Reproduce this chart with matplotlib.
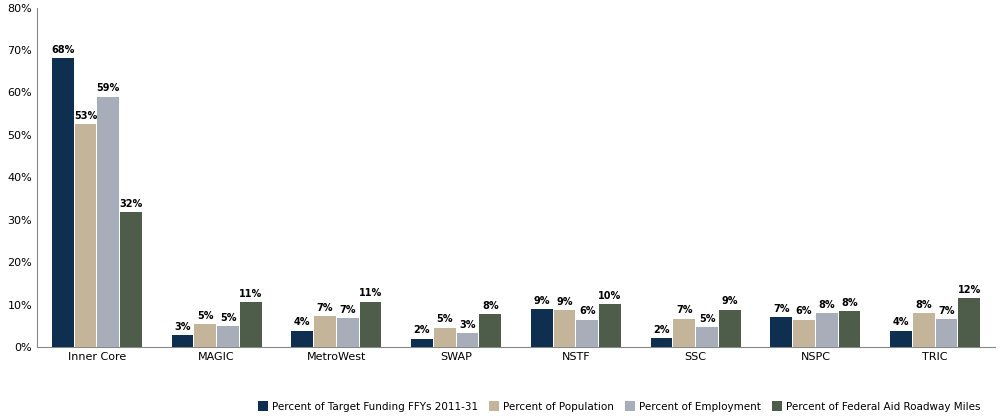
import matplotlib
matplotlib.use("Agg")
import matplotlib.pyplot as plt
import numpy as np

categories = ["Inner Core", "MAGIC", "MetroWest", "SWAP", "NSTF", "SSC", "NSPC", "TRIC"]
series_names = ["Percent of Target Funding FFYs 2011-31", "Percent of Population",
                "Percent of Employment", "Percent of Federal Aid Roadway Miles"]
funding = [68.0, 2.8, 3.8, 1.9, 8.9, 2.0, 7.0, 3.8]
population = [52.5, 5.3, 7.3, 4.5, 8.7, 6.7, 6.4, 7.9]
employment = [59.0, 4.9, 6.8, 3.2, 6.4, 4.6, 8.0, 6.6]
roadway = [31.8, 10.6, 10.7, 7.7, 10.1, 8.8, 8.4, 11.5]
labels = [
    ["68%", "3%", "4%", "2%", "9%", "2%", "7%", "4%"],
    ["53%", "5%", "7%", "5%", "9%", "7%", "6%", "8%"],
    ["59%", "5%", "7%", "3%", "6%", "5%", "8%", "7%"],
    ["32%", "11%", "11%", "8%", "10%", "9%", "8%", "12%"],
]
colors = ["#0f2f50", "#c4b49a", "#a8adba", "#4e5d49"]

fig = plt.figure(figsize=(10, 4.19), dpi=100)
ax = fig.add_axes([0.037, 0.172, 0.958, 0.81])
x = np.arange(len(categories))
w = 0.19
for i, (vals, c) in enumerate(zip([funding, population, employment, roadway], colors)):
    pos = x + (i - 1.5) * w
    ax.bar(pos, vals, w * 0.95, color=c, label=series_names[i], zorder=3)
    for p, v, t in zip(pos, vals, labels[i]):
        ax.text(p, v + 0.8, t, ha="center", va="bottom", fontsize=7, fontweight="bold",
                family="Liberation Sans Narrow" if False else "DejaVu Sans")

ax.set_xlim(-0.5, len(categories) - 0.5)
ax.set_ylim(0, 80)
ax.set_yticks(range(0, 81, 10))
ax.set_yticklabels([f"{v}%" for v in range(0, 81, 10)], fontsize=8)
ax.set_xticks(x)
ax.set_xticklabels(categories, fontsize=8)
ax.tick_params(length=0)
for s in ["top", "right"]:
    ax.spines[s].set_visible(False)
ax.spines["left"].set_color("#888888")
ax.spines["bottom"].set_color("#888888")
fig.legend(loc="lower right", bbox_to_anchor=(0.99, -0.005), ncol=4, frameon=False,
           fontsize=7.5, handlelength=1.0, handleheight=1.0, columnspacing=1.0,
           handletextpad=0.4)
fig.savefig("out.png")
